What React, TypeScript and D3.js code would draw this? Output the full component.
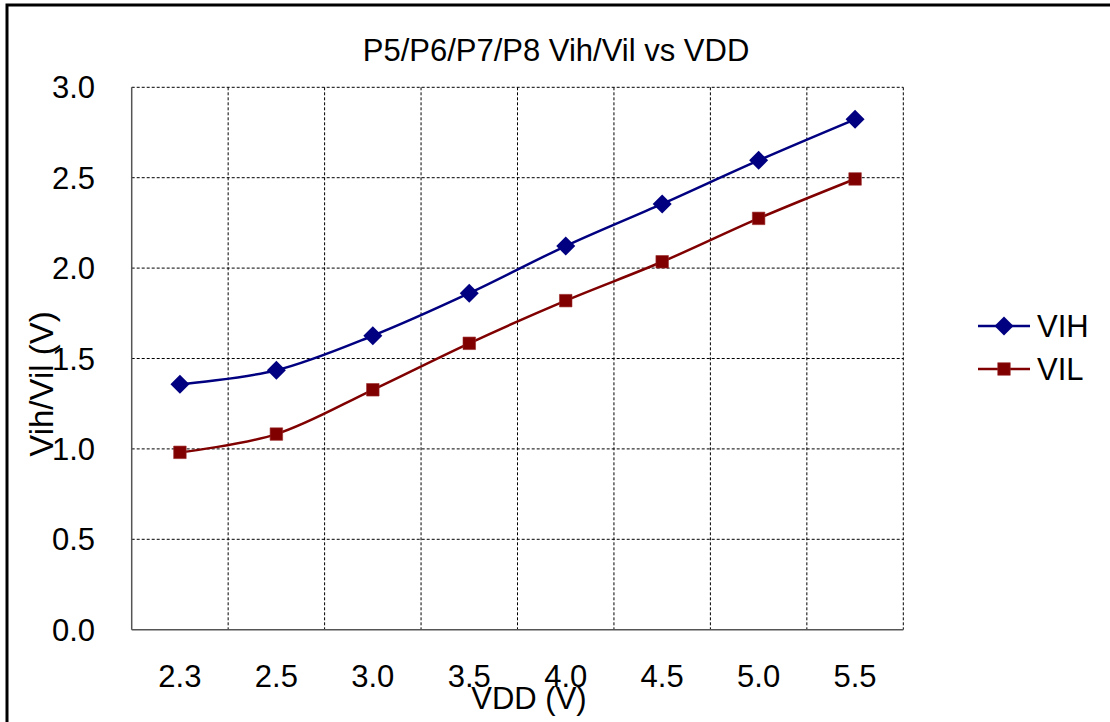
import React from "react";
import * as d3 from "d3";

const categories = ["2.3", "2.5", "3.0", "3.5", "4.0", "4.5", "5.0", "5.5"];
const vihValues = [1.357, 1.435, 1.626, 1.861, 2.122, 2.355, 2.596, 2.823];
const vilValues = [0.981, 1.082, 1.327, 1.584, 1.82, 2.035, 2.275, 2.493];
const yTicks = [0, 0.5, 1.0, 1.5, 2.0, 2.5, 3.0];
const seriesNames = ["VIH", "VIL"];

const W = 1110;
const H = 722;
const FONT = "'Liberation Sans', Arial, sans-serif";

export default function App() {
  const left = 131.7, right = 903.3, top = 87.3, bottom = 629.7;
  const x = d3.scaleBand<string>().domain(categories).range([left, right]).paddingInner(0).paddingOuter(0);
  const y = d3.scaleLinear().domain([0, 3]).range([bottom, top]);
  const cx = (c: string) => (x(c) as number) + x.bandwidth() / 2;

  const line = d3
    .line<number>()
    .x((_, i) => cx(categories[i]))
    .y((d) => y(d))
    .curve(d3.curveCatmullRom.alpha(0));

  const blue = "#000080";
  const red = "#800000";
  const diamond = d3.symbol(d3.symbolDiamond2, 230)();
  const square = d3.symbol(d3.symbolSquare2, 200)();

  const bandEdges = categories.map((c) => x(c) as number).concat([right]);

  return (
    <svg width={W} height={H} style={{ position: "absolute", left: 0, top: 0, background: "#fff" }}>
      <rect x={0} y={0} width={W} height={H} fill="#fff" />
      <rect x={7} y={5} width={1300} height={900} fill="none" stroke="#000" strokeWidth={3} />

      {/* title */}
      <text x={556} y={61} textAnchor="middle" fontFamily={FONT} fontSize={31} fill="#000">
        P5/P6/P7/P8 Vih/Vil vs VDD
      </text>

      {/* horizontal gridlines */}
      {yTicks.slice(1).map((t) => (
        <line key={"h" + t} x1={left} x2={right} y1={y(t)} y2={y(t)} stroke="#000" strokeWidth={1} strokeDasharray="3,2" />
      ))}
      {/* vertical gridlines */}
      {bandEdges.slice(1).map((e, i) => (
        <line key={"v" + i} x1={e} x2={e} y1={top} y2={bottom} stroke="#000" strokeWidth={1} strokeDasharray="3,2" />
      ))}
      {/* axes */}
      <line x1={left} x2={left} y1={top} y2={bottom} stroke="#555" strokeWidth={1.5} />
      <line x1={left} x2={right} y1={bottom} y2={bottom} stroke="#555" strokeWidth={1.5} />

      {/* y tick labels */}
      {yTicks.map((t) => (
        <text key={"yt" + t} x={95} y={y(t) + 11} textAnchor="end" fontFamily={FONT} fontSize={31} fill="#000">
          {t.toFixed(1)}
        </text>
      ))}
      {/* x tick labels */}
      {categories.map((c) => (
        <text key={"xt" + c} x={cx(c)} y={687} textAnchor="middle" fontFamily={FONT} fontSize={31} fill="#000">
          {c}
        </text>
      ))}

      {/* axis titles */}
      <text x={529} y={709} textAnchor="middle" fontFamily={FONT} fontSize={31} fill="#000">
        VDD (V)
      </text>
      <text
        transform={`translate(53,384) rotate(-90)`}
        textAnchor="middle"
        fontFamily={FONT}
        fontSize={33}
        fill="#000"
      >
        Vih/Vil (V)
      </text>

      {/* series */}
      <path d={line(vihValues) || ""} fill="none" stroke={blue} strokeWidth={2.5} />
      <path d={line(vilValues) || ""} fill="none" stroke={red} strokeWidth={2.5} />
      {vihValues.map((v, i) => (
        <path key={"m1" + i} d={diamond || ""} transform={`translate(${cx(categories[i])},${y(v)})`} fill={blue} />
      ))}
      {vilValues.map((v, i) => (
        <path key={"m2" + i} d={square || ""} transform={`translate(${cx(categories[i])},${y(v)})`} fill={red} stroke="#9a2a2a" strokeWidth={0.6} />
      ))}

      {/* legend */}
      <line x1={978} x2={1030} y1={326} y2={326} stroke={blue} strokeWidth={2.5} />
      <path d={diamond || ""} transform="translate(1004,326)" fill={blue} />
      <text x={1037} y={337} fontFamily={FONT} fontSize={31} fill="#000">
        {seriesNames[0]}
      </text>
      <line x1={978} x2={1030} y1={369} y2={369} stroke={red} strokeWidth={2.5} />
      <path d={square || ""} transform="translate(1004,369)" fill={red} stroke="#9a2a2a" strokeWidth={0.6} />
      <text x={1037} y={380} fontFamily={FONT} fontSize={31} fill="#000">
        {seriesNames[1]}
      </text>
    </svg>
  );
}
